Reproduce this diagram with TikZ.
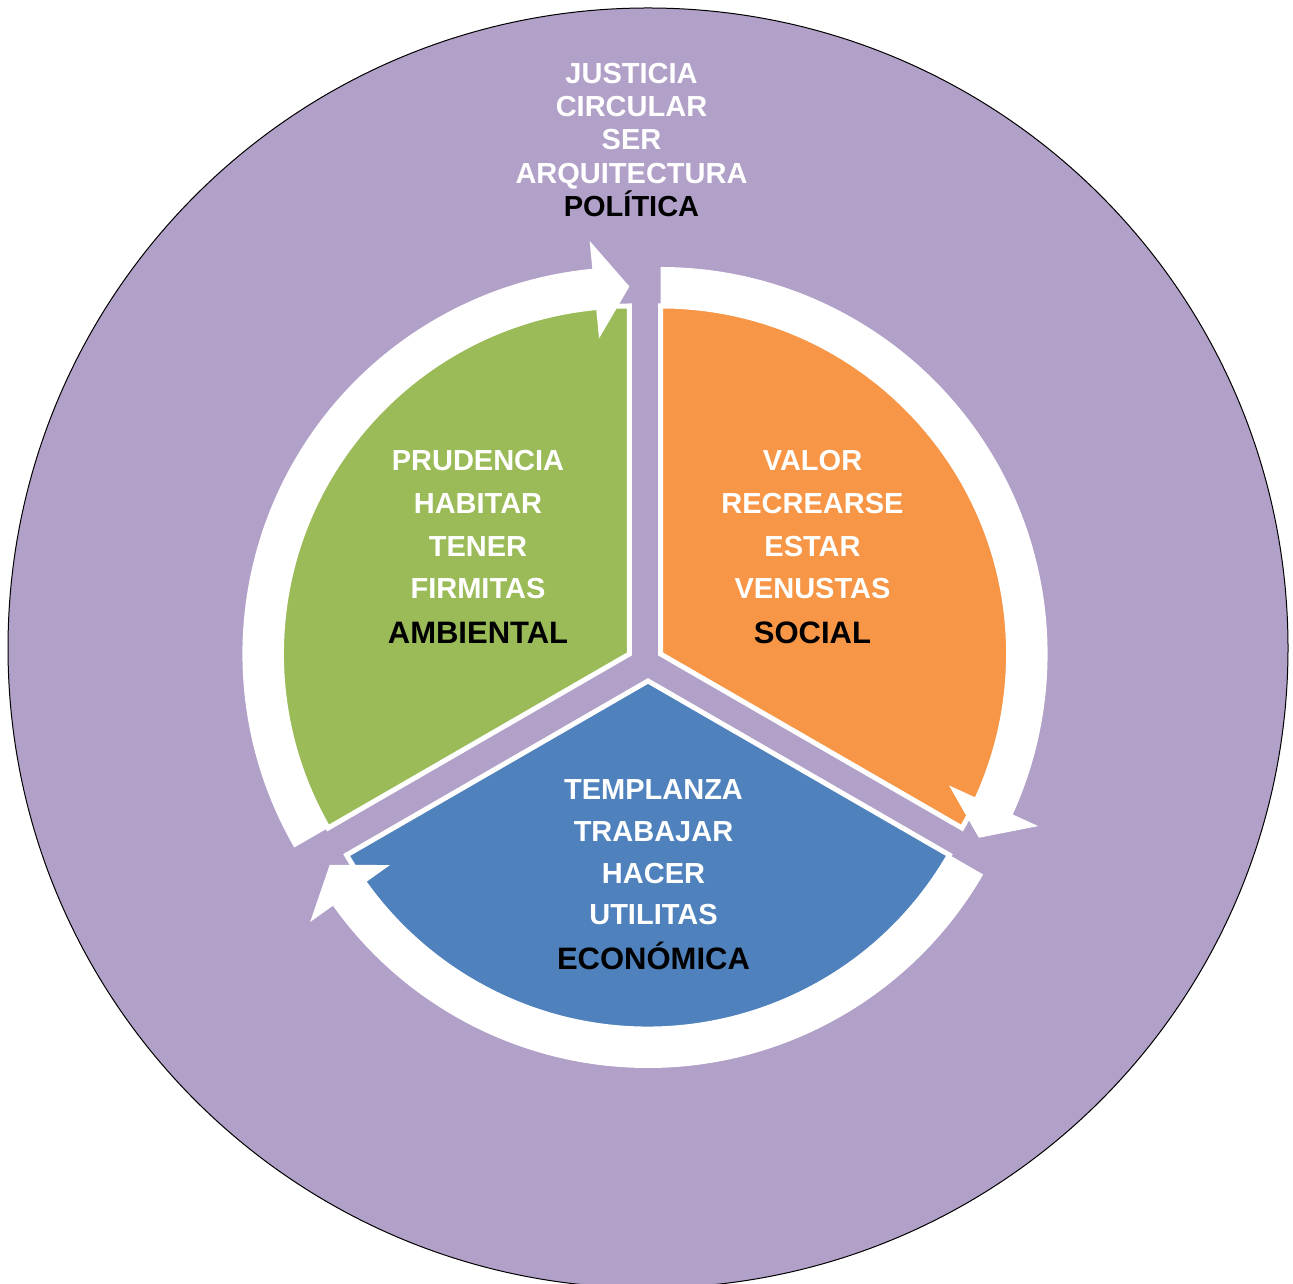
\documentclass[tikz,border=0pt]{standalone}
\usepackage{fontspec}
\setmainfont{Liberation Sans}
\usetikzlibrary{calc}
\definecolor{purp}{HTML}{B1A0C7}
\definecolor{grn}{HTML}{9BBB59}
\definecolor{org}{HTML}{F79646}
\definecolor{blu}{HTML}{4F81BD}
\newcommand\cyclearrow[3]{%
  \pgfmathsetmacro\arrowhb{#3+5.5}%
  \fill[white] ($(#1)+(#2:387)$) arc[start angle=#2, end angle=\arrowhb, radius=387]
    -- ($(#1)+(\arrowhb:415)$) -- ($(#1)+(#3:367.5)$) -- ($(#1)+(\arrowhb:317)$)
    -- ($(#1)+(\arrowhb:348)$) arc[start angle=\arrowhb, end angle=#2, radius=348] -- cycle;}
\tikzset{
  sector/.style={draw=white, line width=5},
  lbl/.style={font=\bfseries\fontsize{29}{29}\selectfont, text=white, inner sep=0, anchor=base},
  keylbl/.style={font=\bfseries\fontsize{31}{31}\selectfont, text=black, inner sep=0, anchor=base},
  toplbl/.style={lbl},
  topkey/.style={lbl, text=black}
}
\begin{document}
\begin{tikzpicture}[x=1pt,y=1pt]
\useasboundingbox (0,0) rectangle (1293,1283);
\fill[white] (0,0) rectangle (1293,1283);
\filldraw[fill=purp, draw=black, line width=1] (648,635) circle[radius=640];
\coordinate (C) at (645,620);
\coordinate (G) at ($(C)+(150:18)$);
\coordinate (O) at ($(C)+(30:18)$);
\coordinate (B) at ($(C)+(3,-18)$);
% sectors
\filldraw[sector, fill=grn] (G) -- ($(G)+(90:348)$) arc[start angle=90, end angle=210, radius=348] -- cycle;
\filldraw[sector, fill=org] (O) -- ($(O)+(90:348)$) arc[start angle=90, end angle=-30, radius=348] -- cycle;
\filldraw[sector, fill=blu] (B) -- ($(B)+(-30:348)$) arc[start angle=-30, end angle=-150, radius=348] -- cycle;
% cycle arrows
\cyclearrow{G}{210}{90}
\cyclearrow{O}{90}{-30}
\cyclearrow{B}{330}{210}
% top labels
\node[toplbl] (t1) at (631.5,1199.7) {JUSTICIA};
\node[toplbl] (t2) at (631.5,1166.3) {CIRCULAR};
\node[toplbl] (t3) at (631.5,1133) {SER};
\node[toplbl] (t4) at (631.5,1099.7) {ARQUITECTURA};
\node[topkey] (t5) at (631.5,1066.3) {POLÍTICA};
% green labels
\node[lbl] (g1) at (478,812.3) {PRUDENCIA};
\node[lbl] (g2) at (478,769) {HABITAR};
\node[lbl] (g3) at (478,726.3) {TENER};
\node[lbl] (g4) at (478,684.7) {FIRMITAS};
\node[keylbl] (g5) at (478,639.7) {AMBIENTAL};
% orange labels
\node[lbl] (o1) at (812.5,812.3) {VALOR};
\node[lbl] (o2) at (812.5,769) {RECREARSE};
\node[lbl] (o3) at (812.5,726.3) {ESTAR};
\node[lbl] (o4) at (812.5,684.7) {VENUSTAS};
\node[keylbl] (o5) at (812.5,639.7) {SOCIAL};
% blue labels
\node[lbl] (b1) at (653.5,483) {TEMPLANZA};
\node[lbl] (b2) at (653.5,441.3) {TRABAJAR};
\node[lbl] (b3) at (653.5,399.7) {HACER};
\node[lbl] (b4) at (653.5,358) {UTILITAS};
\node[keylbl] (b5) at (653.5,313) {ECONÓMICA};
\end{tikzpicture}
\end{document}
